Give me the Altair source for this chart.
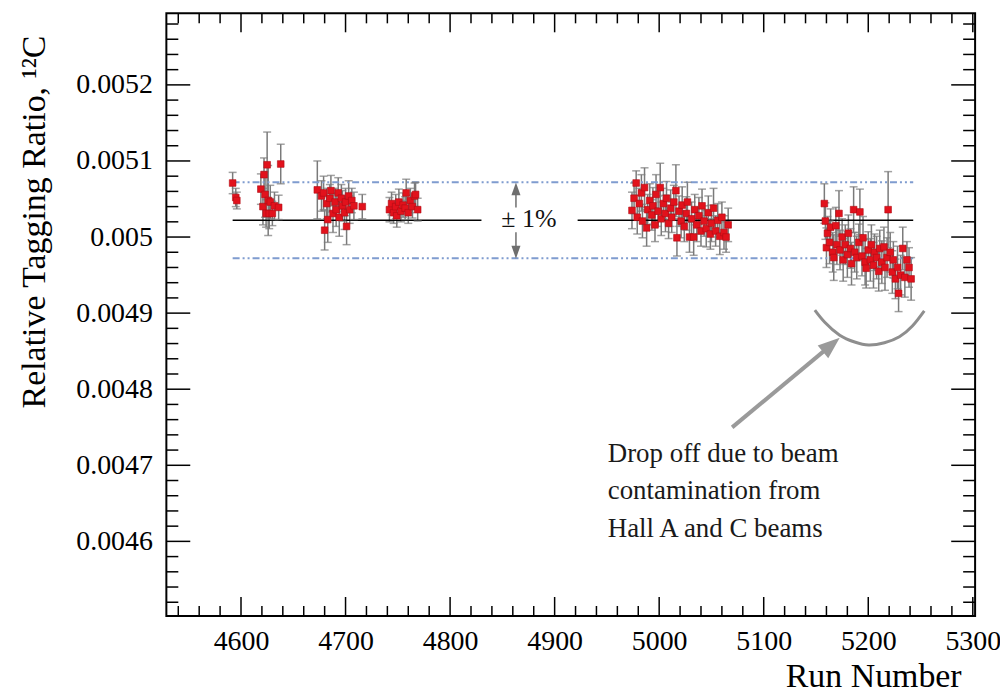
import altair as alt
import pandas as pd

# ---------------- data ----------------
runs_1 = [4592, 4595, 4596, 4619, 4621, 4622, 4623, 4624, 4625, 4626, 4627, 4628, 4630, 4632, 4636, 4638]
ratio_1 = [0.005071, 0.005052, 0.005048, 0.005063, 0.005040, 0.005082, 0.005056, 0.005031,
           0.005095, 0.005048, 0.005031, 0.005046, 0.005031, 0.005041, 0.005039, 0.005096]
err_1 = [0.000014, 0.000012, 0.000011, 0.000020, 0.000024, 0.000022, 0.000030, 0.000018,
         0.000043, 0.000046, 0.000020, 0.000022, 0.000016, 0.000018, 0.000016, 0.000026]

runs_2 = [4673, 4677, 4679, 4680, 4682, 4683, 4685, 4686, 4688, 4690, 4691, 4693, 4694, 4696,
          4697, 4699, 4700, 4701, 4703, 4704, 4706, 4708, 4716]
ratio_2 = [0.005062, 0.005054, 0.005058, 0.005009, 0.005044, 0.005023, 0.005051, 0.005061,
           0.005031, 0.005046, 0.005036, 0.005058, 0.005026, 0.005051, 0.005041, 0.005032,
           0.005046, 0.005014, 0.005054, 0.005036, 0.005048, 0.005041, 0.005040]
err_2 = [0.000038, 0.000020, 0.000022, 0.000026, 0.000020, 0.000030, 0.000018, 0.000020,
         0.000025, 0.000018, 0.000022, 0.000020, 0.000025, 0.000018, 0.000020, 0.000022,
         0.000018, 0.000024, 0.000020, 0.000018, 0.000016, 0.000018, 0.000016]

runs_3 = [4742, 4744, 4746, 4748, 4749, 4751, 4753, 4755, 4757, 4758, 4760, 4762, 4764, 4766, 4767, 4769]
ratio_3 = [0.005036, 0.005044, 0.005032, 0.005040, 0.005028, 0.005046, 0.005034, 0.005042,
           0.005038, 0.005058, 0.005032, 0.005048, 0.005040, 0.005054, 0.005056, 0.005036]
err_3 = [0.000016, 0.000015, 0.000014, 0.000016, 0.000015, 0.000017, 0.000014, 0.000016,
         0.000015, 0.000018, 0.000014, 0.000016, 0.000015, 0.000017, 0.000016, 0.000015]

runs_4 = [4974, 4976, 4978, 4979, 4981, 4983, 4984, 4986, 4988, 4989,
          4991, 4993, 4994, 4996, 4997, 4999, 5001, 5002, 5004, 5006,
          5007, 5009, 5011, 5012, 5014, 5016, 5017, 5019, 5021, 5022,
          5024, 5026, 5027, 5029, 5031, 5033, 5034, 5036, 5038, 5040,
          5041, 5043, 5045, 5047, 5049, 5050, 5052, 5054, 5056, 5058,
          5060, 5062, 5064, 5066]
ratio_4 = [0.005035, 0.005051, 0.005071, 0.005026, 0.005044, 0.005058, 0.005021, 0.005065, 0.005012, 0.005036,
           0.005048, 0.005029, 0.005041, 0.005016, 0.005056, 0.005034, 0.005065, 0.005024, 0.005044, 0.005031,
           0.005051, 0.005018, 0.005038, 0.005026, 0.005046, 0.005061, 0.004999, 0.005034, 0.005021, 0.005042,
           0.005014, 0.005031, 0.005046, 0.005000, 0.005024, 0.005000, 0.005036, 0.005016, 0.005028, 0.005008,
           0.005041, 0.005021, 0.005011, 0.005032, 0.005004, 0.005018, 0.005038, 0.005008, 0.005022, 0.005001,
           0.005026, 0.005006, 0.005000, 0.005016]
err_4 = [0.000024, 0.000020, 0.000016, 0.000022, 0.000020, 0.000024, 0.000022, 0.000026, 0.000024, 0.000020,
         0.000022, 0.000020, 0.000024, 0.000022, 0.000026, 0.000020, 0.000032, 0.000022, 0.000020, 0.000024,
         0.000022, 0.000020, 0.000024, 0.000020, 0.000022, 0.000034, 0.000024, 0.000020, 0.000022, 0.000024,
         0.000020, 0.000022, 0.000026, 0.000020, 0.000022, 0.000024, 0.000020, 0.000022, 0.000024, 0.000020,
         0.000022, 0.000020, 0.000024, 0.000022, 0.000020, 0.000024, 0.000026, 0.000020, 0.000022, 0.000024,
         0.000020, 0.000022, 0.000020, 0.000022]

runs_5 = [5158, 5159, 5160, 5161, 5163, 5164, 5166, 5167, 5169, 5170,
          5172, 5173, 5175, 5176, 5178, 5180, 5181, 5183, 5184, 5186,
          5187, 5189, 5191, 5192, 5194, 5195, 5197, 5198, 5200, 5202,
          5203, 5205, 5206, 5208, 5210, 5211, 5213, 5215, 5216, 5218,
          5219, 5221, 5223, 5224, 5226, 5228, 5229, 5231, 5233, 5235,
          5237, 5239, 5241]
ratio_5 = [0.005044, 0.005021, 0.004986, 0.005005, 0.004993, 0.005013, 0.004980, 0.004973, 0.005015, 0.004990,
           0.005031, 0.004983, 0.005000, 0.004970, 0.004990, 0.004977, 0.005005, 0.004985, 0.004965, 0.005036,
           0.004980, 0.004973, 0.004993, 0.005033, 0.004975, 0.004999, 0.004967, 0.004959, 0.004983, 0.004970,
           0.004990, 0.004963, 0.004980, 0.004973, 0.004955, 0.004985, 0.004967, 0.004987, 0.004960, 0.004973,
           0.005036, 0.004980, 0.004954, 0.004970, 0.004945, 0.004960, 0.004926, 0.004950, 0.004985, 0.004947,
           0.004970, 0.004960, 0.004945]
err_5 = [0.000026, 0.000024, 0.000026, 0.000022, 0.000028, 0.000024, 0.000026, 0.000030, 0.000024, 0.000026,
         0.000030, 0.000026, 0.000024, 0.000028, 0.000026, 0.000030, 0.000024, 0.000026, 0.000028, 0.000030,
         0.000026, 0.000028, 0.000024, 0.000030, 0.000026, 0.000028, 0.000030, 0.000026, 0.000024, 0.000028,
         0.000026, 0.000030, 0.000024, 0.000028, 0.000026, 0.000024, 0.000028, 0.000026, 0.000030, 0.000026,
         0.000050, 0.000026, 0.000028, 0.000024, 0.000026, 0.000028, 0.000024, 0.000026, 0.000028, 0.000026,
         0.000024, 0.000026, 0.000028]

# reference lines
mean_ratio = 0.005022
band_hi = 0.005072
band_lo = 0.004972
mean_seg_start = [4592, 4922]
mean_seg_end = [4830, 5243]
band_start = 4592
band_end = 5243

# axis ticks
x_major = [4600, 4700, 4800, 4900, 5000, 5100, 5200, 5300]
y_major = [0.0046, 0.0047, 0.0048, 0.0049, 0.005, 0.0051, 0.0052]
x_minor = [v for v in range(4540, 5301, 20) if v % 100 != 0]
y_minor = [round(0.0045 + i * 0.00002, 6) for i in range(1, 40) if i % 5 != 0]

x_domain = [4528.6, 5302.2]
y_domain = [0.004502, 0.005294]

# annotation geometry (data units)
pm_arrow_x = 4863
pm_shaft_from = [0.0050387, 0.0050063]
pm_shaft_to = [0.0050633, 0.0049801]
pm_head_y = [0.0050633, 0.0049801]
pm_head_angle = [0, 180]
pm_text = "± 1%"
pm_text_x = 4849
pm_text_y = 0.0050243

arc_x = [5148.9, 5158.4, 5172.7, 5187.0, 5200.3, 5215.5, 5229.8, 5242.2, 5253.6]
arc_y = [0.004904, 0.004888, 0.004871, 0.004862, 0.004858, 0.004861, 0.004869, 0.004883, 0.004903]

big_arrow_tail = (5069.8, 0.0047498)
big_arrow_head = (5164.7, 0.0048583)

note_lines = ["Drop off due to beam", "contamination from", "Hall A and C beams"]
note_x = 4950.8
note_y = [0.0047145, 0.0046661, 0.004616]

# ---------------- chart ----------------
W, H = 812, 605
FONT = "Liberation Serif"
xs = alt.Scale(domain=x_domain, nice=False, zero=False)
ys = alt.Scale(domain=y_domain, nice=False, zero=False)

pts = pd.DataFrame({
    "run": runs_1 + runs_2 + runs_3 + runs_4 + runs_5,
    "ratio": ratio_1 + ratio_2 + ratio_3 + ratio_4 + ratio_5,
    "err": err_1 + err_2 + err_3 + err_4 + err_5,
})
pts["lo"] = pts["ratio"] - pts["err"]
pts["hi"] = pts["ratio"] + pts["err"]

x_axis = alt.Axis(values=x_major, format="d", labelFont=FONT, labelFontSize=28, labelColor="black",
                  domain=False, ticks=False, grid=False, labelPadding=12, labelFlush=False,
                  title="Run Number", titleFont=FONT, titleFontSize=34, titleFontWeight="normal",
                  titleColor="black", titleX=798, titleY=71, titleAlign="right",
                  titleBaseline="alphabetic")
y_axis = alt.Axis(values=y_major, format="~g", labelFont=FONT, labelFontSize=28, labelColor="black",
                  domain=False, ticks=False, grid=False, labelPadding=14,
                  title="Relative Tagging Ratio, ¹²C", titleFont=FONT, titleFontSize=34,
                  titleFontWeight="normal", titleColor="black", titleAngle=270,
                  titleX=-122, titleY=209, titleAlign="center", titleBaseline="alphabetic")


def X(field):
    return alt.X(field, scale=xs)


def Y(field):
    return alt.Y(field, scale=ys)


base = alt.Chart(pts)
err_bars = base.mark_rule(color="#7a7a7a", strokeWidth=1.5).encode(
    x=alt.X("run:Q", scale=xs, axis=x_axis),
    y=alt.Y("lo:Q", scale=ys, axis=y_axis),
    y2="hi:Q",
)
cap_lo = base.mark_tick(orient="horizontal", size=8, thickness=1.5, color="#7a7a7a").encode(
    x=X("run:Q"), y=Y("lo:Q"))
cap_hi = base.mark_tick(orient="horizontal", size=8, thickness=1.5, color="#7a7a7a").encode(
    x=X("run:Q"), y=Y("hi:Q"))
markers = base.mark_square(size=45, color="#e2121c", opacity=1, stroke="#b00c14", strokeWidth=0.6).encode(
    x=X("run:Q"), y=Y("ratio:Q"))

mean_df = pd.DataFrame({"x1": mean_seg_start, "x2": mean_seg_end, "y": [mean_ratio, mean_ratio]})
mean_line = alt.Chart(mean_df).mark_rule(color="black", strokeWidth=1.6).encode(
    x=X("x1:Q"), x2="x2:Q", y=Y("y:Q"))

band_df = pd.DataFrame({"x1": [band_start, band_start], "x2": [band_end, band_end], "y": [band_hi, band_lo]})
band_lines = alt.Chart(band_df).mark_rule(color="#7f9ccf", strokeWidth=2,
                                          strokeDash=[7, 3, 2, 3, 2, 3]).encode(
    x=X("x1:Q"), x2="x2:Q", y=Y("y:Q"))

pm_df = pd.DataFrame({"x": [pm_arrow_x, pm_arrow_x], "y1": pm_shaft_from, "y2": pm_shaft_to,
                      "hy": pm_head_y, "ang": pm_head_angle})
pm_shafts = alt.Chart(pm_df).mark_rule(color="#6e6e6e", strokeWidth=1.5).encode(
    x=X("x:Q"), y=Y("y1:Q"), y2="y2:Q")
pm_heads = alt.Chart(pm_df).mark_point(shape="M0,-1L0.7,1L-0.7,1Z", filled=True, size=169,
                                       color="#6e6e6e", opacity=1).encode(
    x=X("x:Q"), y=Y("hy:Q"), angle=alt.Angle("ang:Q", scale=None))
pm_label = alt.Chart(pd.DataFrame({"x": [pm_text_x], "y": [pm_text_y], "t": [pm_text]})).mark_text(
    align="left", baseline="middle", font=FONT, fontSize=26, color="#111111").encode(
    x=X("x:Q"), y=Y("y:Q"), text="t:N")

arc_df = pd.DataFrame({"x": arc_x, "y": arc_y, "i": list(range(len(arc_x)))})
arc = alt.Chart(arc_df).mark_line(color="#8e8e8e", strokeWidth=3, interpolate="natural").encode(
    x=X("x:Q"), y=Y("y:Q"), order="i:Q")

big_df = pd.DataFrame({"x1": [big_arrow_tail[0]], "y1": [big_arrow_tail[1]],
                       "x2": [big_arrow_head[0]], "y2": [big_arrow_head[1]]})
big_shaft = alt.Chart(big_df).mark_rule(color="#9a9a9a", strokeWidth=4).encode(
    x=X("x1:Q"), y=Y("y1:Q"), x2="x2:Q", y2="y2:Q")
big_head = alt.Chart(big_df).mark_point(shape="M0,-1L0.75,1L-0.75,1Z", filled=True, size=484,
                                        color="#9a9a9a", opacity=1, angle=50).encode(
    x=X("x2:Q"), y=Y("y2:Q"))

note_df = pd.DataFrame({"x": [note_x] * 3, "y": note_y, "t": note_lines})
note = alt.Chart(note_df).mark_text(align="left", baseline="middle", font=FONT, fontSize=27,
                                    color="#1a1a1a").encode(
    x=X("x:Q"), y=Y("y:Q"), text="t:N")


def y_ticks(vals, x0, x1):
    return alt.Chart(pd.DataFrame({"v": vals})).mark_rule(color="black", strokeWidth=1.5).encode(
        y=Y("v:Q"), x=alt.value(x0), x2=alt.value(x1))


def x_ticks(vals, y0, y1):
    return alt.Chart(pd.DataFrame({"v": vals})).mark_rule(color="black", strokeWidth=1.5).encode(
        x=X("v:Q"), y=alt.value(y0), y2=alt.value(y1))


ticks = [
    y_ticks(y_major, 0, 24), y_ticks(y_minor, 0, 12),
    y_ticks(y_major, W - 24, W), y_ticks(y_minor, W - 12, W),
    x_ticks(x_major, H, H - 19), x_ticks(x_minor, H, H - 10),
    x_ticks(x_major, 0, 19), x_ticks(x_minor, 0, 10),
]

chart = alt.layer(
    err_bars, *ticks, band_lines, mean_line, cap_lo, cap_hi, markers,
    pm_shafts, pm_heads, pm_label, arc, big_shaft, big_head, note,
).properties(
    width=W, height=H,
    padding={"left": 159, "top": 4, "right": 25, "bottom": 78},
    autosize=alt.AutoSizeParams(type="none"),
).configure_view(stroke="black", strokeWidth=2)

chart.save("out.html", embed_options={"renderer": "svg", "actions": False})
